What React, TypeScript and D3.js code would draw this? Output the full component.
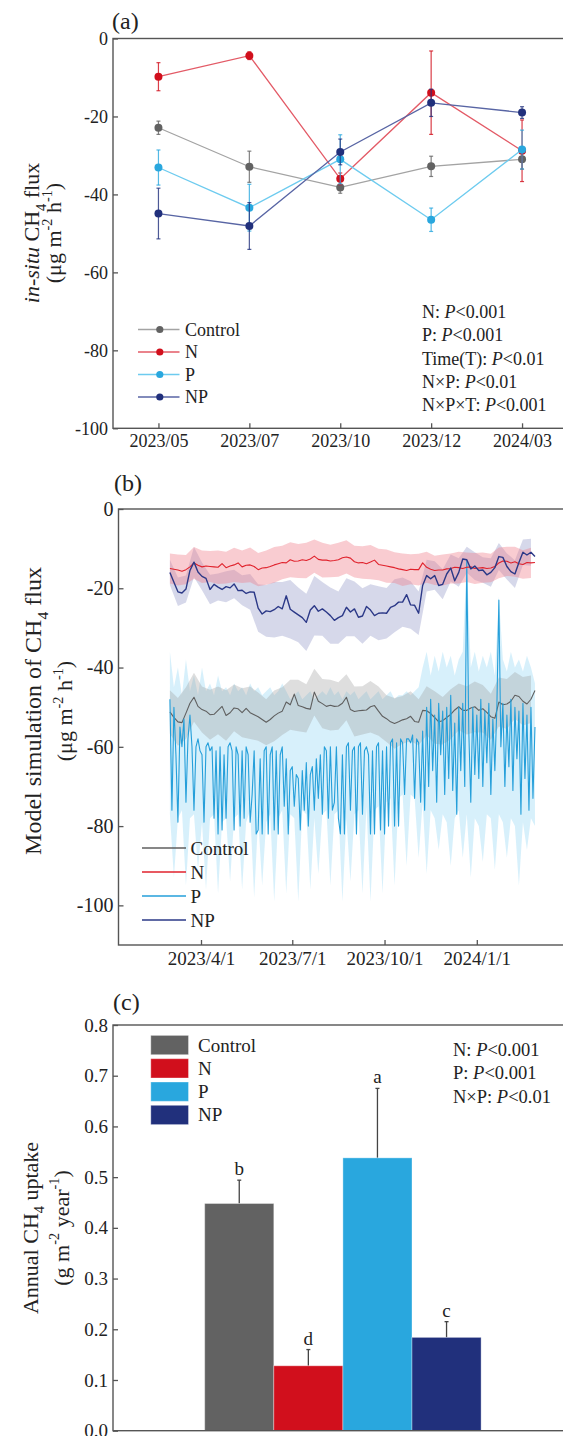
import React, { useEffect, useRef } from "react";
import * as d3 from "d3";

// ---- (a) in-situ flux, field campaigns ----
const fieldDates = ["2023/05", "2023/07", "2023/10", "2023/12", "2024/03"];
const fieldControl = [-22.9, -32.9, -38.2, -32.8, -31.0];
const fieldControlErr = [1.7, 4.0, 1.5, 2.6, 2.5];
const fieldN = [-9.8, -4.4, -36.0, -13.9, -28.8];
const fieldNErr = [3.6, 1.0, 1.5, 10.7, 7.9];
const fieldP = [-33.1, -43.4, -31.0, -46.5, -28.5];
const fieldPErr = [4.5, 6.0, 6.3, 3.0, 5.0];
const fieldNP = [-44.9, -48.1, -29.1, -16.5, -19.0];
const fieldNPErr = [6.5, 6.0, 3.3, 3.5, 1.5];
const statsA = [
  ["N", "<0.001"],
  ["P", "<0.001"],
  ["Time(T)", "<0.01"],
  ["N×P", "<0.01"],
  ["N×P×T", "<0.001"],
];

// ---- (b) model simulation, daily from 2023-03-01 ----
const simStart = Date.UTC(2023, 2, 1);
const simStep = 4; // days between samples of Control / N / NP
const pStep = 2; // days between samples of P
const bandStep = 8; // days between spread samples
const simN = [
  -15.0, -15.2, -15.4, -15.7, -15.3, -14.6, -13.6, -14.2, -14.6, -14.4,
  -14.5, -14.6, -14.7, -13.8, -14.8, -14.4, -14.1, -13.6, -14.6, -14.2,
  -14.1, -14.5, -15.3, -14.9, -14.8, -14.5, -14.1, -13.8, -13.5, -13.6,
  -12.8, -13.2, -13.1, -12.8, -13.0, -12.6, -11.9, -12.7, -12.9, -12.9,
  -13.1, -13.0, -12.8, -12.3, -12.1, -12.4, -13.3, -13.6, -13.5, -13.8,
  -13.4, -12.9, -14.0, -14.2, -14.4, -14.6, -14.8, -15.1, -15.3, -15.5,
  -15.2, -15.3, -15.3, -13.6, -14.7, -15.2, -15.5, -15.4, -15.4, -15.1,
  -15.0, -14.7, -14.8, -15.0, -14.7, -14.6, -15.0, -14.9, -14.8, -15.0,
  -14.9, -14.5, -13.6, -13.1, -13.2, -13.6, -13.3, -13.8, -14.0, -13.5,
  -13.6, -13.5,
];
const simNP = [
  -16.0, -18.5, -20.9, -21.2, -20.2, -15.5, -13.4, -15.9, -17.0, -17.5,
  -20.3, -19.0, -19.7, -20.3, -19.6, -19.9, -18.9, -20.6, -20.5, -21.3,
  -20.9, -21.0, -25.0, -26.5, -25.7, -25.9, -25.4, -24.6, -25.2, -21.9,
  -25.3, -26.0, -26.7, -27.4, -28.6, -25.5, -24.4, -25.8, -25.2, -26.0,
  -26.9, -28.1, -27.4, -26.9, -24.8, -26.0, -25.2, -27.3, -27.0, -24.6,
  -25.5, -26.9, -26.3, -26.2, -26.3, -24.8, -24.4, -23.5, -23.5, -21.6,
  -24.2, -24.3, -26.3, -19.3, -16.8, -17.6, -16.8, -19.3, -19.0, -16.4,
  -14.9, -18.1, -16.0, -12.6, -12.8, -15.1, -14.4, -15.5, -15.4, -16.6,
  -16.0, -14.8, -12.0, -12.2, -14.5, -15.8, -16.4, -13.5, -10.9, -11.6,
  -10.9, -12.0,
];
const simControl = [
  -51.2, -52.6, -53.7, -53.9, -51.5, -49.0, -47.5, -49.8, -50.6, -51.0,
  -51.9, -51.8, -50.8, -49.8, -52.1, -51.4, -50.2, -50.4, -51.4, -50.3,
  -51.4, -51.9, -52.4, -53.1, -53.8, -53.1, -52.2, -51.5, -51.0, -48.7,
  -49.4, -46.7, -49.6, -49.9, -50.3, -50.5, -46.2, -48.5, -49.1, -49.8,
  -49.5, -49.8, -49.7, -49.0, -47.5, -50.6, -51.1, -50.9, -50.8, -50.7,
  -49.9, -49.6, -51.0, -52.3, -52.9, -53.7, -54.1, -53.7, -53.2, -52.9,
  -52.3, -53.6, -53.8, -50.8, -50.9, -51.6, -52.6, -53.7, -53.4, -52.6,
  -51.8, -50.7, -49.9, -50.8, -50.8, -50.2, -49.9, -50.8, -50.4, -51.3,
  -52.4, -52.8, -48.7, -49.4, -49.2, -48.5, -47.0, -47.3, -48.5, -49.2,
  -48.0, -45.8,
];
const simP = [
  -48, -76, -50, -62, -79, -55, -60, -53, -74, -58,
  -52, -60, -76, -60, -58, -61, -62, -79, -60, -59,
  -61, -60, -78, -61, -82, -60, -81, -62, -78, -60,
  -59, -61, -81, -60, -62, -80, -61, -78, -60, -62,
  -79, -72, -61, -82, -81, -63, -82, -61, -60, -82,
  -62, -60, -81, -61, -82, -62, -60, -75, -63, -82,
  -66, -65, -75, -67, -68, -81, -66, -76, -64, -80,
  -67, -65, -76, -63, -73, -62, -77, -60, -61, -78,
  -60, -76, -74, -60, -78, -82, -62, -82, -60, -59,
  -76, -61, -60, -82, -60, -59, -77, -61, -60, -62,
  -82, -61, -82, -60, -59, -81, -61, -82, -60, -80,
  -59, -58, -80, -59, -80, -58, -59, -72, -58, -58,
  -59, -57, -73, -58, -59, -74, -56, -76, -50, -70,
  -48, -66, -52, -74, -49, -62, -51, -72, -50, -68,
  -47, -71, -54, -77, -50, -66, -49, -70, -13, -56,
  -74, -50, -67, -52, -68, -48, -70, -51, -64, -49,
  -72, -53, -66, -50, -23, -60, -49, -70, -52, -65,
  -48, -71, -50, -63, -51, -77, -49, -68, -52, -76,
  -50, -73, -55,
];
const simPUpper = [
  -36, -45, -40, -47, -38, -46, -42, -47, -40, -46,
  -44, -47, -42, -46, -45, -47, -44, -46, -45, -47,
  -44, -46, -45, -47, -46, -45, -47, -46, -44, -46,
  -48, -47, -46, -48, -47, -46, -48, -47, -46, -47,
  -45, -47, -46, -48, -46, -47, -46, -48, -47, -46,
  -48, -47, -46, -48, -47, -46, -48, -47, -47, -46,
  -47, -46, -45, -40, -36, -42, -37, -41, -36, -40,
  -37, -42, -38, -36, -13, -40, -36, -41, -37, -40,
  -36, -42, -22, -38, -41, -36, -40, -38, -41, -37,
  -40, -44,
];
const simPLower = [
  -77, -93, -78, -76, -95, -78, -77, -91, -79, -96,
  -78, -77, -97, -79, -78, -94, -78, -77, -96, -79,
  -76, -98, -78, -95, -79, -77, -99, -78, -76, -97,
  -77, -78, -99, -76, -77, -96, -78, -92, -77, -76,
  -95, -77, -76, -99, -78, -94, -77, -76, -97, -75,
  -99, -76, -75, -97, -74, -73, -95, -73, -72, -90,
  -72, -73, -88, -74, -92, -76, -78, -86, -77, -79,
  -90, -78, -76, -88, -77, -93, -78, -80, -89, -77,
  -78, -91, -77, -79, -88, -78, -80, -95, -79, -86,
  -78, -80,
];
const spreadN = [
  3.8, 3.9, 3.7, 4.0, 4.1, 3.9, 4.2, 4.0, 4.3, 4.1,
  4.4, 4.2, 4.3, 4.5, 4.2, 4.4, 4.3, 4.5, 4.2, 4.4,
  4.1, 4.3, 4.2, 4.0, 4.1, 4.3, 4.0, 4.2, 3.9, 4.1,
  3.8, 4.0, 3.9, 3.7, 3.9, 3.8, 4.0, 3.7, 3.9, 3.8,
  3.6, 3.9, 3.7, 3.8, 3.6, 3.8,
];
const spreadControl = [
  5.5, 6.0, 6.5, 6.2, 5.8, 6.3, 6.0, 6.4, 5.9, 6.2,
  6.6, 6.1, 5.8, 6.4, 6.0, 6.3, 6.5, 6.1, 5.9, 6.2,
  6.4, 6.0, 5.8, 6.3, 6.1, 6.5, 6.2, 5.9, 6.4, 6.0,
  6.3, 5.8, 6.2, 6.6, 6.0, 6.3, 5.9, 6.1, 6.4, 6.0,
  5.8, 6.2, 6.3, 5.9, 6.1, 6.0,
];
const spreadNP = [
  3.2, 3.6, 3.4, 3.8, 3.5, 3.7, 3.4, 3.9, 3.6, 3.8,
  4.5, 6.0, 6.5, 7.0, 6.8, 7.4, 6.9, 7.2, 7.5, 6.8,
  7.1, 6.6, 7.3, 6.9, 7.0, 6.5, 6.8, 6.4, 6.7, 6.2,
  6.0, 5.5, 4.0, 3.6, 3.8, 3.4, 3.6, 3.3, 3.5, 3.2,
  3.6, 3.4, 3.3, 3.5, 3.2, 3.4,
];
const simTicks = [Date.UTC(2023, 3, 1), Date.UTC(2023, 6, 1), Date.UTC(2023, 9, 1), Date.UTC(2024, 0, 1)];

// ---- (c) annual uptake ----
const treatments = ["Control", "N", "P", "NP"];
const uptake = [0.448, 0.128, 0.538, 0.184];
const uptakeErr = [0.046, 0.032, 0.137, 0.031];
const uptakeLetters = ["b", "d", "a", "c"];
const statsC = [
  ["N", "<0.001"],
  ["P", "<0.001"],
  ["N×P", "<0.01"],
];

const FONT = "'Liberation Serif', 'Times New Roman', serif";
const AXIS = "#555";
const colors = { Control: "#626262", N: "#d10f1c", P: "#29a7de", NP: "#21307c" };
const lineA = { Control: "#a3a3a3", N: "#e35a66", P: "#6dcbef", NP: "#5865a4" };
const lineB = { Control: "#5f5f5f", N: "#e0222c", P: "#259fda", NP: "#2b3887" };
const bandB = { Control: "#9c9c9c", N: "#f07f8b", P: "#86d0f3", NP: "#8a8fc2" };

const DAY = 86400000;

// text with italic / sub / superscript pieces
function rich(parent, segs, size) {
  const text = parent.append("text").attr("font-size", size).attr("fill", "#222");
  let shift = 0;
  segs.forEach((s) => {
    const target = s.sub ? size * 0.3 : s.sup ? -size * 0.42 : 0;
    const ts = text.append("tspan").text(s.t).attr("dy", target - shift);
    shift = target;
    if (s.sub || s.sup) ts.attr("font-size", size * 0.65);
    if (s.it) ts.attr("font-style", "italic");
  });
  return text;
}

function yLabel(svg, x, y, segs, size) {
  const g = svg.append("g").attr("transform", `translate(${x},${y}) rotate(-90)`);
  rich(g, segs, size).attr("text-anchor", "middle");
}

function styleAxis(g, size) {
  g.attr("font-family", FONT).attr("font-size", size);
  g.select(".domain").remove();
  g.selectAll(".tick line").attr("stroke", AXIS).attr("stroke-width", 1.3);
  g.selectAll(".tick text").attr("fill", "#222");
}

function frame(svg, b) {
  svg
    .append("rect")
    .attr("x", b.left)
    .attr("y", b.top)
    .attr("width", b.right - b.left)
    .attr("height", b.bottom - b.top)
    .attr("fill", "none")
    .attr("stroke", AXIS)
    .attr("stroke-width", 1.4);
}

function stats(svg, x, y0, dy, rows, size) {
  rows.forEach((r, i) => {
    rich(svg, [{ t: `${r[0]}: ` }, { t: "P", it: true }, { t: r[1] }], size)
      .attr("x", x)
      .attr("y", y0 + i * dy);
  });
}

function drawField(svg) {
  const A = { left: 113, top: 38.5, bottom: 428.3, right: 567.5 };
  const x = d3.scalePoint().domain(fieldDates).range([A.left, A.right]).padding(0.5);
  const y = d3.scaleLinear().domain([-100, 0]).range([A.bottom, A.top]);

  svg.append("g")
    .attr("transform", `translate(${A.left},0)`)
    .call(d3.axisLeft(y).tickValues([-100, -80, -60, -40, -20, 0]).tickFormat((d) => String(d)).tickSizeInner(-5).tickSizeOuter(0).tickPadding(5))
    .call((g) => styleAxis(g, 18));
  svg.append("g")
    .attr("transform", `translate(0,${A.bottom})`)
    .call(d3.axisBottom(x).tickSizeInner(-5).tickSizeOuter(0).tickPadding(6))
    .call((g) => styleAxis(g, 18));
  frame(svg, A);

  const series = [
    ["Control", fieldControl, fieldControlErr],
    ["N", fieldN, fieldNErr],
    ["P", fieldP, fieldPErr],
    ["NP", fieldNP, fieldNPErr],
  ];
  const line = d3.line().x((d) => x(d[0])).y((d) => y(d[1]));
  series.forEach(([name, vals, errs]) => {
    const pts = fieldDates.map((d, i) => [d, vals[i], errs[i]]);
    svg.append("path").attr("d", line(pts)).attr("fill", "none").attr("stroke", lineA[name]).attr("stroke-width", 1.3);
    const eb = svg.append("g").attr("stroke", colors[name]).attr("stroke-opacity", 0.8).attr("stroke-width", 1.2);
    pts.forEach((p) => {
      const cx = x(p[0]);
      eb.append("line").attr("x1", cx).attr("x2", cx).attr("y1", y(p[1] - p[2])).attr("y2", y(p[1] + p[2]));
      [p[1] - p[2], p[1] + p[2]].forEach((v) =>
        eb.append("line").attr("x1", cx - 2).attr("x2", cx + 2).attr("y1", y(v)).attr("y2", y(v))
      );
    });
    svg.append("g")
      .selectAll("circle")
      .data(pts)
      .enter()
      .append("circle")
      .attr("cx", (d) => x(d[0]))
      .attr("cy", (d) => y(d[1]))
      .attr("r", 4)
      .attr("fill", colors[name]);
  });

  // legend
  treatments.forEach((name, i) => {
    const cy = 329.5 + i * 22.5;
    svg.append("line").attr("x1", 138).attr("x2", 179.5).attr("y1", cy).attr("y2", cy).attr("stroke", lineA[name]).attr("stroke-width", 1.5);
    svg.append("circle").attr("cx", 159.8).attr("cy", cy).attr("r", 3.6).attr("fill", colors[name]);
    svg.append("text").attr("x", 185).attr("y", cy + 6).attr("font-size", 18).attr("fill", "#222").text(name);
  });
  stats(svg, 422, 318, 23.3, statsA, 18);

  svg.append("text").attr("x", 112).attr("y", 29).attr("font-size", 24).attr("fill", "#222").text("(a)");
  yLabel(svg, 39, 233, [{ t: "in-situ", it: true }, { t: " CH" }, { t: "4", sub: true }, { t: " flux" }], 22);
  yLabel(svg, 61, 233, [{ t: "(μg m" }, { t: "-2", sup: true }, { t: " h" }, { t: "-1", sup: true }, { t: ")" }], 22);
}

function drawModel(svg) {
  const B = { left: 118.5, top: 509, bottom: 945, right: 600 };
  const x = d3.scaleUtc().domain([simTicks[0], simTicks[3]]).range([201, 476.8]);
  const y = d3.scaleLinear().domain([-110, 0]).range([B.bottom, B.top]);

  svg.append("g")
    .attr("transform", `translate(${B.left},0)`)
    .call(d3.axisLeft(y).tickValues([-100, -80, -60, -40, -20, 0]).tickFormat((d) => String(d)).tickSizeInner(-5).tickSizeOuter(0).tickPadding(5))
    .call((g) => styleAxis(g, 20));
  svg.append("g")
    .attr("transform", `translate(0,${B.bottom})`)
    .call(
      d3.axisBottom(x)
        .tickValues(simTicks.map((t) => new Date(t)))
        .tickFormat((d) => `${d.getUTCFullYear()}/${d.getUTCMonth() + 1}/${d.getUTCDate()}`)
        .tickSizeInner(-5)
        .tickSizeOuter(0)
        .tickPadding(7)
    )
    .call((g) => styleAxis(g, 19));

  const at = (step) => (i) => simStart + i * step * DAY;
  const area = d3.area().x((d) => x(d.t)).y0((d) => y(d.lo)).y1((d) => y(d.hi));
  const line = d3.line().x((d) => x(d.t)).y((d) => y(d.v));

  const spreadBand = (mean, spread) =>
    spread.map((s, k) => ({ t: at(bandStep)(k), lo: mean[k * (bandStep / simStep)] - s, hi: mean[k * (bandStep / simStep)] + s }));

  const pBand = simPUpper.map((u, i) => ({ t: at(simStep)(i), lo: simPLower[i], hi: u }));
  svg.append("path").attr("d", area(pBand)).attr("fill", bandB.P).attr("fill-opacity", 0.33);
  svg.append("path").attr("d", area(spreadBand(simControl, spreadControl))).attr("fill", bandB.Control).attr("fill-opacity", 0.33);
  svg.append("path").attr("d", area(spreadBand(simNP, spreadNP))).attr("fill", bandB.NP).attr("fill-opacity", 0.35);
  svg.append("path").attr("d", area(spreadBand(simN, spreadN))).attr("fill", bandB.N).attr("fill-opacity", 0.4);

  const lines = [
    ["Control", simControl, simStep, 1.1],
    ["P", simP, pStep, 1.1],
    ["N", simN, simStep, 1.1],
    ["NP", simNP, simStep, 1.4],
  ];
  lines.forEach(([name, vals, step, w]) => {
    const pts = vals.map((v, i) => ({ t: at(step)(i), v }));
    svg.append("path").attr("d", line(pts)).attr("fill", "none").attr("stroke", lineB[name]).attr("stroke-width", w).attr("stroke-linejoin", "round");
  });

  frame(svg, B);

  treatments.forEach((name, i) => {
    const cy = 848 + i * 24;
    svg.append("line").attr("x1", 142).attr("x2", 186).attr("y1", cy).attr("y2", cy).attr("stroke", lineB[name]).attr("stroke-width", 1.3);
    svg.append("text").attr("x", 190.5).attr("y", cy + 6.5).attr("font-size", 19).attr("fill", "#222").text(name);
  });

  svg.append("text").attr("x", 114).attr("y", 491).attr("font-size", 24).attr("fill", "#222").text("(b)");
  yLabel(svg, 41, 711, [{ t: "Model simulation of CH" }, { t: "4", sub: true }, { t: " flux" }], 24);
  yLabel(svg, 72, 711, [{ t: "(μg m" }, { t: "-2", sup: true }, { t: " h" }, { t: "-1", sup: true }, { t: ")" }], 22);
}

function drawUptake(svg) {
  const C = { left: 113, top: 1025, bottom: 1430.7, right: 573 };
  const x = d3.scaleBand().domain(treatments).range([204.7, 481.1]).padding(0);
  const y = d3.scaleLinear().domain([0, 0.8]).range([C.bottom, C.top]);

  svg.append("g")
    .attr("transform", `translate(${C.left},0)`)
    .call(d3.axisLeft(y).ticks(8).tickFormat((d) => d.toFixed(1)).tickSizeInner(-5).tickSizeOuter(0).tickPadding(5))
    .call((g) => styleAxis(g, 19));

  const data = treatments.map((t, i) => ({ t, v: uptake[i], e: uptakeErr[i], l: uptakeLetters[i] }));
  data.forEach((d) => {
    const cx = x(d.t) + x.bandwidth() / 2;
    svg.append("line").attr("x1", cx).attr("x2", cx).attr("y1", y(d.v)).attr("y2", y(d.v + d.e)).attr("stroke", "#444").attr("stroke-width", 1.3);
    svg.append("line").attr("x1", cx - 2).attr("x2", cx + 2).attr("y1", y(d.v + d.e)).attr("y2", y(d.v + d.e)).attr("stroke", "#444").attr("stroke-width", 1.3);
    svg.append("text").attr("x", cx).attr("y", y(d.v + d.e) - 5).attr("text-anchor", "middle").attr("font-size", 19).attr("fill", "#222").text(d.l);
  });
  svg.append("g")
    .selectAll("rect")
    .data(data)
    .enter()
    .append("rect")
    .attr("x", (d) => x(d.t))
    .attr("y", (d) => y(d.v))
    .attr("width", x.bandwidth())
    .attr("height", (d) => y(0) - y(d.v))
    .attr("fill", (d) => colors[d.t])
    .attr("stroke", "#ffffff")
    .attr("stroke-opacity", 0.35)
    .attr("stroke-width", 1);

  frame(svg, C);

  treatments.forEach((name, i) => {
    const cy = 1045 + i * 23.3;
    svg.append("rect").attr("x", 150.8).attr("y", cy - 9.6).attr("width", 37.7).attr("height", 19.3).attr("fill", colors[name]).attr("stroke", "#ffffff").attr("stroke-opacity", 0.35);
    svg.append("text").attr("x", 198).attr("y", cy + 6.5).attr("font-size", 19).attr("fill", "#222").text(name);
  });
  stats(svg, 453, 1056, 23.3, statsC, 18.5);

  svg.append("text").attr("x", 113).attr("y", 1010).attr("font-size", 24).attr("fill", "#222").text("(c)");
  yLabel(svg, 37.5, 1228, [{ t: "Annual CH" }, { t: "4", sub: true }, { t: " uptake" }], 22);
  yLabel(svg, 68.5, 1228, [{ t: "(g m" }, { t: "-2", sup: true }, { t: " year" }, { t: "-1", sup: true }, { t: ")" }], 22);
}

export default function App() {
  const ref = useRef(null);

  useEffect(() => {
    const svg = d3.select(ref.current);
    svg.selectAll("*").remove();
    drawField(svg);
    drawModel(svg);
    drawUptake(svg);
  }, []);

  return (
    <svg
      ref={ref}
      width={563}
      height={1436}
      fontFamily={FONT}
      style={{ position: "absolute", left: 0, top: 0, background: "#fff" }}
    />
  );
}
